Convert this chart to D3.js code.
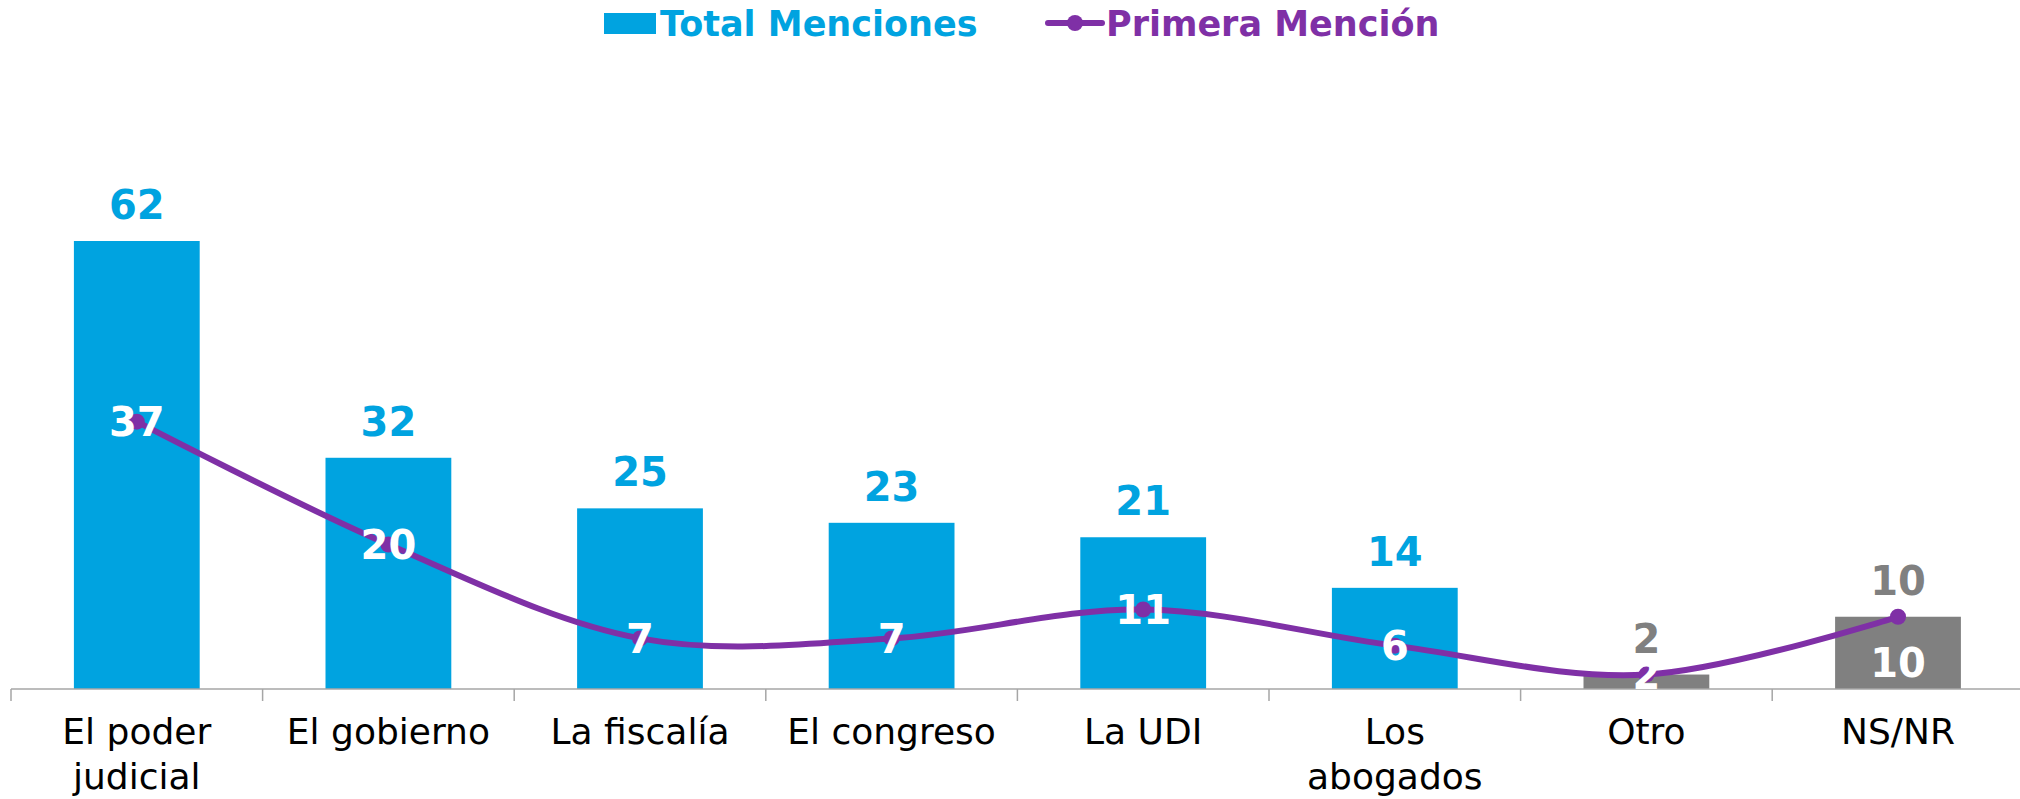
<!DOCTYPE html>
<html>
<head>
<meta charset="utf-8">
<script src="https://cdn.jsdelivr.net/npm/d3@7"></script>
<style>
  body { margin: 0; background: #fff; }
  svg { display: block; }
  text { font-family: "DejaVu Sans", "Noto Sans", sans-serif; }
</style>
</head>
<body>
<script>
// chart data
var categories = ["El poder judicial", "El gobierno", "La fiscalía", "El congreso", "La UDI", "Los abogados", "Otro", "NS/NR"];
var totalMenciones = [62, 32, 25, 23, 21, 14, 2, 10];
var primeraMencion = [37, 20, 7, 7, 11, 6, 2, 10];
var grayCats = ["Otro", "NS/NR"];
var seriesNames = ["Total Menciones", "Primera Mención"];

var W = 2020, H = 799;
var blue = "#00A3E0", purple = "#7F30A6", gray = "#808080";

var svg = d3.select(document.body).append("svg")
  .attr("width", W).attr("height", H);

var x = d3.scaleBand()
  .domain(categories)
  .range([11, 11 + 251.6 * 8])
  .paddingInner(0.5)
  .paddingOuter(0.25);

var y = d3.scaleLinear()
  .domain([0, 62])
  .range([689, 241]);

// bars
svg.append("g").selectAll("rect")
  .data(categories)
  .join("rect")
  .attr("x", function(d) { return x(d); })
  .attr("y", function(d, i) { return y(totalMenciones[i]); })
  .attr("width", x.bandwidth())
  .attr("height", function(d, i) { return y(0) - y(totalMenciones[i]); })
  .attr("fill", function(d) { return grayCats.indexOf(d) >= 0 ? gray : blue; });

// x axis
var axis = svg.append("g")
  .attr("transform", "translate(0," + y(0) + ")");
axis.append("line")
  .attr("x1", 11).attr("x2", W)
  .attr("stroke", "#A6A6A6").attr("stroke-width", 1.5);
var step = x.step();
axis.selectAll(".tick")
  .data(d3.range(categories.length + 1))
  .join("line")
  .attr("x1", function(i) { return 11 + i * step; })
  .attr("x2", function(i) { return 11 + i * step; })
  .attr("y1", 0).attr("y2", 12)
  .attr("stroke", "#A6A6A6").attr("stroke-width", 1.5);

var wrapped = {
  "El poder judicial": ["El poder", "judicial"],
  "Los abogados": ["Los", "abogados"]
};
axis.selectAll(".lbl")
  .data(categories)
  .join("text")
  .attr("class", "lbl")
  .attr("text-anchor", "middle")
  .attr("font-size", 36)
  .attr("fill", "#000")
  .each(function(d) {
    var lines = wrapped[d] || [d];
    var t = d3.select(this);
    lines.forEach(function(l, k) {
      t.append("tspan")
        .attr("x", x(d) + x.bandwidth() / 2)
        .attr("y", 55 + k * 45)
        .text(l);
    });
  });

// bar value labels
svg.append("g").selectAll("text")
  .data(categories)
  .join("text")
  .attr("x", function(d) { return x(d) + x.bandwidth() / 2; })
  .attr("y", function(d, i) { return y(totalMenciones[i]) - 22; })
  .attr("text-anchor", "middle")
  .attr("font-size", 40)
  .attr("font-weight", "bold")
  .attr("fill", function(d) { return grayCats.indexOf(d) >= 0 ? gray : blue; })
  .text(function(d, i) { return totalMenciones[i]; });

// smoothed line
var pts = categories.map(function(d, i) {
  return [x(d) + x.bandwidth() / 2, y(primeraMencion[i])];
});
var line = d3.line().curve(d3.curveCardinal.tension(0));
svg.append("path")
  .attr("d", line(pts))
  .attr("fill", "none")
  .attr("stroke", purple)
  .attr("stroke-width", 6)
  .attr("stroke-linecap", "round");
svg.append("g").selectAll("circle")
  .data(pts)
  .join("circle")
  .attr("cx", function(p) { return p[0]; })
  .attr("cy", function(p) { return p[1]; })
  .attr("r", 8)
  .attr("fill", purple);

// line value labels (last one sits below its point, inside the bar)
svg.append("g").selectAll("text")
  .data(pts)
  .join("text")
  .attr("x", function(p) { return p[0]; })
  .attr("y", function(p, i) { return i === pts.length - 1 ? p[1] + 46 : p[1]; })
  .attr("dy", "0.36em")
  .attr("text-anchor", "middle")
  .attr("font-size", 40)
  .attr("font-weight", "bold")
  .attr("fill", "#fff")
  .text(function(p, i) { return primeraMencion[i]; });

// legend
var leg = svg.append("g");
leg.append("rect")
  .attr("x", 604).attr("y", 13).attr("width", 52).attr("height", 21)
  .attr("fill", blue);
leg.append("text")
  .attr("x", 660).attr("y", 23).attr("dy", "0.36em")
  .attr("font-size", 35).attr("font-weight", "bold")
  .attr("fill", blue)
  .text(seriesNames[0]);
leg.append("line")
  .attr("x1", 1048).attr("x2", 1102).attr("y1", 23).attr("y2", 23)
  .attr("stroke", purple).attr("stroke-width", 6).attr("stroke-linecap", "round");
leg.append("circle")
  .attr("cx", 1075).attr("cy", 23).attr("r", 8).attr("fill", purple);
leg.append("text")
  .attr("x", 1106).attr("y", 23).attr("dy", "0.36em")
  .attr("font-size", 35).attr("font-weight", "bold")
  .attr("fill", purple)
  .text(seriesNames[1]);
</script>
</body>
</html>
